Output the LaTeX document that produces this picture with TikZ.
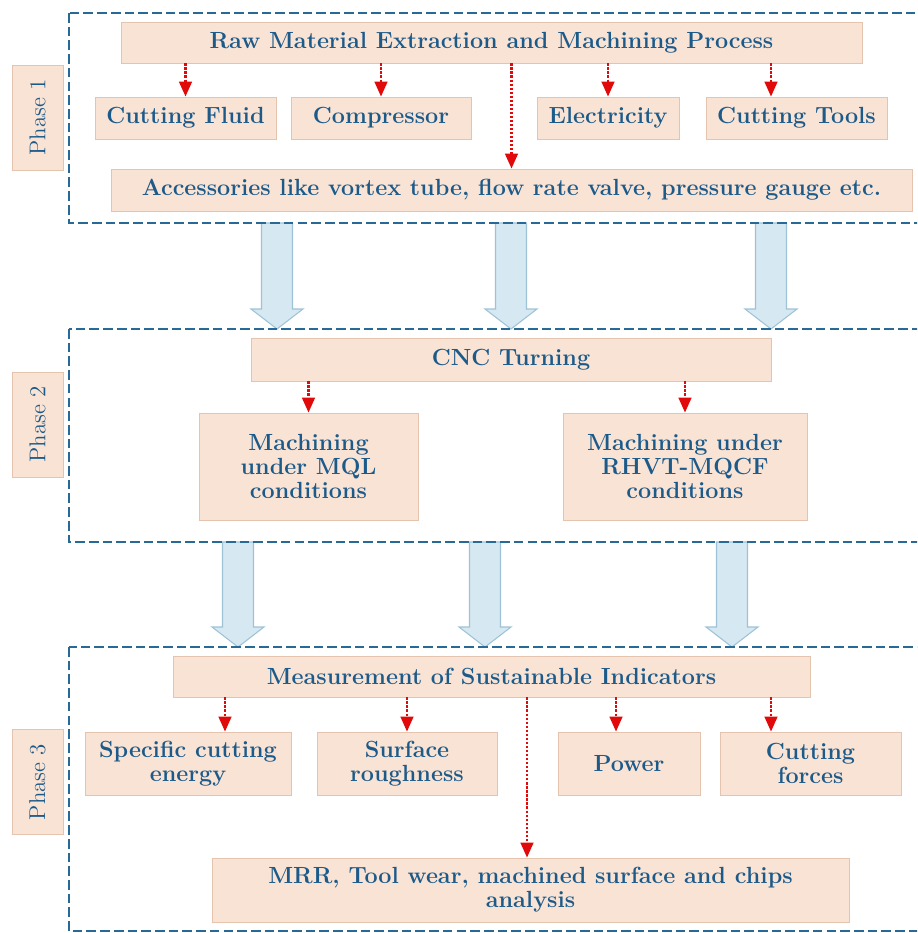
\documentclass[tikz,border=0pt]{standalone}
\usetikzlibrary{arrows.meta}
\definecolor{txtblue}{RGB}{28,90,138}
\definecolor{frameblue}{RGB}{40,105,150}
\definecolor{boxfill}{RGB}{249,227,212}
\definecolor{boxline}{RGB}{228,196,174}
\definecolor{flowfill}{RGB}{214,232,241}
\definecolor{flowline}{RGB}{158,194,214}
\definecolor{dotred}{RGB}{225,10,10}
\begin{document}
\begin{tikzpicture}[x=0.02cm, y=-0.02cm]
  \tikzset{stage box/.style={draw=boxline, fill=boxfill, text=txtblue, font=\fontsize{13.3}{13.8}\selectfont\bfseries, align=center, inner sep=2pt},
    phase tag/.style={draw=boxline, fill=boxfill, text=txtblue, font=\fontsize{13}{15}\selectfont, rotate=90, minimum width=2.1cm, minimum height=1.02cm},
    phase frame/.style={draw=frameblue, line width=1.4pt, dash pattern=on 5.5pt off 2.3pt},
    dot arrow/.style={dotred, line width=1.6pt, dash pattern=on 1.3pt off 1pt, -{Triangle[width=0.25cm,length=0.3cm]}},
    flow arrow/.style={draw=flowline, fill=flowfill, line width=0.6pt}}

  \useasboundingbox (0,0) rectangle (917,933);
  \clip (0,0) rectangle (917,933);

  % Wide arrows between the phases
  \foreach \x/\ya/\yb in {277/223/329, 511/223/329, 771/223/329, 238/542/647, 485/542/647, 732/542/647}
    \draw[flow arrow] ({\x-15.5},\ya) -- ({\x-15.5},{\yb-20}) -- ({\x-26},{\yb-20}) -- (\x,\yb)
      -- ({\x+26},{\yb-20}) -- ({\x+15.5},{\yb-20}) -- ({\x+15.5},\ya) -- cycle;

  % Dashed frames of the three phases
  \draw[phase frame] (69,13) rectangle (940,223);
  \draw[phase frame] (69,329) rectangle (940,542);
  \draw[phase frame] (69,647) rectangle (940,931);

  % Phase tags
  \node[phase tag] (p1) at (37.5,117.5) {Phase 1};
  \node[phase tag] (p2) at (37.5,424.5) {Phase 2};
  \node[phase tag] (p3) at (37.5,782) {Phase 3};

  % --- Phase 1 ---
  \node[stage box, minimum width=14.82cm, minimum height=0.82cm] (raw) at (491.5,42.5) {Raw Material Extraction and Machining Process};
  \node[stage box, minimum width=3.62cm, minimum height=0.84cm] (fluid) at (185.5,118) {Cutting Fluid};
  \node[stage box, minimum width=3.6cm, minimum height=0.84cm] (comp) at (381,118) {Compressor};
  \node[stage box, minimum width=2.84cm, minimum height=0.84cm] (elec) at (608,118) {Electricity};
  \node[stage box, minimum width=3.62cm, minimum height=0.84cm] (tools) at (796.5,118) {Cutting Tools};
  \node[stage box, minimum width=16.02cm, minimum height=0.84cm] (acc) at (511.5,190) {Accessories like vortex tube, flow rate valve, pressure gauge etc.};

  \draw[dot arrow] (raw.south -| fluid.north) -- (fluid.north);
  \draw[dot arrow] (raw.south -| comp.north) -- (comp.north);
  \draw[dot arrow] (raw.south -| elec.north) -- (elec.north);
  \draw[dot arrow] (raw.south -| 771,0) -- (tools.north -| 771,0);
  \draw[dot arrow] (raw.south -| acc.north) -- (acc.north);

  % --- Phase 2 ---
  \node[stage box, minimum width=10.4cm, minimum height=0.86cm] (cnc) at (511,359.5) {CNC Turning};
  \node[stage box, minimum width=4.38cm, minimum height=2.14cm] (mql) at (308.5,466.5) {Machining\\under MQL\\conditions};
  \node[stage box, minimum width=4.88cm, minimum height=2.14cm] (rhvt) at (685,466.5) {Machining under\\RHVT-MQCF\\conditions};

  \draw[dot arrow] (cnc.south -| mql.north) -- (mql.north);
  \draw[dot arrow] (cnc.south -| rhvt.north) -- (rhvt.north);

  % --- Phase 3 ---
  \node[stage box, minimum width=12.74cm, minimum height=0.82cm] (meas) at (491.5,676.5) {Measurement of Sustainable Indicators};
  \node[stage box, minimum width=4.12cm, minimum height=1.26cm] (energy) at (188,763.5) {Specific cutting\\energy};
  \node[stage box, minimum width=3.6cm, minimum height=1.26cm] (rough) at (407,763.5) {Surface\\roughness};
  \node[stage box, minimum width=2.84cm, minimum height=1.26cm] (power) at (629,763.5) {Power};
  \node[stage box, minimum width=3.62cm, minimum height=1.26cm] (forces) at (810.5,763.5) {Cutting\\forces};
  \node[stage box, minimum width=12.74cm, minimum height=1.28cm] (mrr) at (530.5,890) {MRR, Tool wear, machined surface and chips\\analysis};

  \draw[dot arrow] (meas.south -| 225,0) -- (energy.north -| 225,0);
  \draw[dot arrow] (meas.south -| rough.north) -- (rough.north);
  \draw[dot arrow] (meas.south -| 527,0) -- (mrr.north -| 527,0);
  \draw[dot arrow] (meas.south -| 616,0) -- (power.north -| 616,0);
  \draw[dot arrow] (meas.south -| 771,0) -- (forces.north -| 771,0);
\end{tikzpicture}
\end{document}
